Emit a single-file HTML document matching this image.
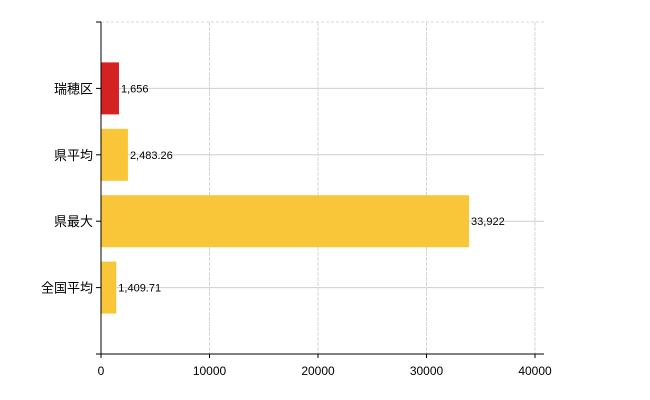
<!DOCTYPE html>
<html><head><meta charset="utf-8"><style>
body{margin:0;background:#fff}
svg{display:block;font-family:"Liberation Sans","Noto Sans CJK JP",sans-serif}
</style></head><body>
<svg width="650" height="400" id="c"></svg>
<script>
const categories=["瑞穂区","県平均","県最大","全国平均"];
const values=[1656,2483.26,33922,1409.71];
const valueLabels=["1,656","2,483.26","33,922","1,409.71"];
const tickValues=[0,10000,20000,30000,40000];
const colors=["#d42222","#f9c63a","#f9c63a","#f9c63a"];
const NS="http://www.w3.org/2000/svg";
const svg=document.getElementById('c');
const x0=101,x1=535,xmax=40000,yTop=22,yBot=354;
const xs=v=>x0+(v/xmax)*(x1-x0);
const band=(yBot-yTop)/(categories.length+1);
const ys=i=>yTop+band*(i+1);
function mk(t,a){const e=document.createElementNS(NS,t);for(const k in a)e.setAttribute(k,a[k]);svg.appendChild(e);return e;}
// grid
let g=mk('line',{x1:x0,x2:544,y1:yTop,y2:yTop,stroke:"#d8d8d8","stroke-dasharray":"3,2"});


tickValues.forEach(v=>{if(v===0)return;
const l=mk('line',{x1:xs(v),x2:xs(v),y1:yTop,y2:yBot,stroke:"#d4d4d4","stroke-dasharray":"4,1"});

});
categories.forEach((c,i)=>{
const l=mk('line',{x1:x0,x2:544,y1:ys(i),y2:ys(i),stroke:"#cfcfcf"});

});
// bars
const bh=52;
categories.forEach((c,i)=>{
const r=mk('rect',{x:x0,y:ys(i)-bh/2,width:xs(values[i])-x0,height:bh,fill:colors[i]});


const t=mk('text',{x:xs(values[i])+2,y:ys(i)+4,"font-size":"11",fill:"#000"});
t.textContent=valueLabels[i];


const cl=mk('text',{x:93,y:ys(i)+5,"font-size":"13","text-anchor":"end",fill:"#000"});
cl.textContent=c;


const tk=mk('line',{x1:96,x2:x0,y1:ys(i),y2:ys(i),stroke:"#000"});


});
[yTop,yBot].forEach(y=>{const tk=mk('line',{x1:96,x2:x0,y1:y,y2:y,stroke:"#000"});

});
// axes
const ya=mk('line',{x1:x0,x2:x0,y1:yTop,y2:yBot,stroke:"#000"});


const xa=mk('line',{x1:x0,x2:544,y1:yBot,y2:yBot,stroke:"#000"});


tickValues.forEach(v=>{
const tk=mk('line',{x1:xs(v),x2:xs(v),y1:yBot,y2:yBot+4,stroke:"#000"});


const t=mk('text',{x:xs(v),y:375,"font-size":"12","text-anchor":"middle",fill:"#000"});
t.textContent=String(v);


});
</script>
</body></html>
